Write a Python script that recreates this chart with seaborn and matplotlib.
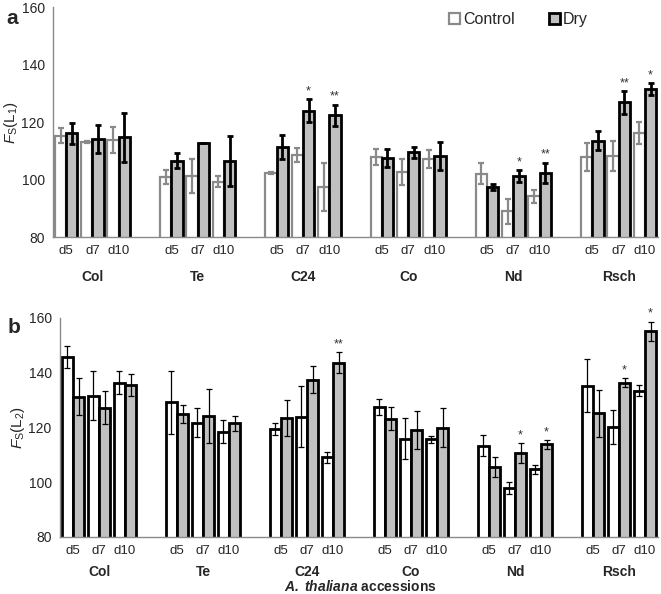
import numpy as np
import pandas as pd
import matplotlib
matplotlib.use('Agg')
import matplotlib.pyplot as plt
import matplotlib.transforms as mtrans
import seaborn as sns

sns.set_style('white')
plt.rcParams['font.family'] = ['Liberation Sans', 'DejaVu Sans']
plt.rcParams['mathtext.fontset'] = 'custom'
plt.rcParams['mathtext.rm'] = 'Liberation Sans'
plt.rcParams['mathtext.it'] = 'Liberation Sans:italic'
plt.rcParams['mathtext.bf'] = 'Liberation Sans:bold'
plt.rcParams['mathtext.bfit'] = 'Liberation Sans:italic:bold'

# ── Data ───────────────────────────────────────────────────────────
accessions = ['Col', 'Te', 'C24', 'Co', 'Nd', 'Rsch']
days = ['d5', 'd7', 'd10']

# panel a : Fs(L1)
a_ctrl     = [115.2, 113.0, 113.8, 100.9, 101.4, 99.3, 102.4, 108.5, 97.3,
              107.8, 102.6, 107.3, 102.0, 88.9, 94.2, 107.8, 108.2, 116.1]
a_ctrl_err = [2.6, 0.3, 4.6, 2.4, 5.9, 1.9, 0.3, 2.5, 8.4,
              2.7, 4.5, 3.1, 3.7, 4.4, 2.2, 4.9, 5.2, 3.8]
a_dry      = [116.1, 114.0, 114.7, 106.5, 112.6, 106.5, 111.5, 124.0, 122.4,
              107.5, 109.5, 108.3, 97.5, 101.3, 102.3, 113.6, 126.9, 131.5]
a_dry_err  = [3.6, 4.9, 8.5, 2.6, 0.0, 8.7, 4.2, 4.1, 3.7,
              3.2, 2.0, 4.8, 1.0, 2.1, 3.6, 3.4, 3.9, 2.1]
a_sig      = ['', '', '', '', '', '', '', '*', '**',
              '', '', '', '', '*', '**', '', '**', '*']

# panel b : Fs(L2)
b_ctrl     = [145.7, 131.6, 136.3, 129.1, 121.7, 118.4, 119.5, 123.9, 109.1,
              127.4, 115.9, 115.6, 113.3, 97.8, 104.7, 135.2, 120.2, 133.4]
b_ctrl_err = [4.0, 9.0, 4.2, 11.4, 5.3, 4.1, 2.2, 11.0, 2.0,
              2.9, 7.4, 1.3, 3.9, 2.3, 1.6, 9.7, 6.2, 2.1]
b_dry      = [131.2, 127.2, 135.3, 124.9, 124.1, 121.5, 123.4, 137.4, 143.6,
              123.2, 119.0, 119.9, 105.5, 110.6, 113.8, 125.1, 136.3, 155.1]
b_dry_err  = [6.7, 5.9, 4.0, 3.2, 9.8, 2.8, 6.6, 4.8, 3.9,
              4.2, 6.9, 7.2, 3.5, 3.7, 1.6, 8.6, 1.6, 3.5]
b_sig      = ['', '', '', '', '', '', '', '', '**',
              '', '', '', '', '*', '*', '', '*', '*']

# slot order: three days per accession, one empty slot between accessions
order = []
for i, acc in enumerate(accessions):
    order += [f'{acc} {d}' for d in days]
    if i < len(accessions) - 1:
        order.append(f'gap{i}')
slot_labels = ['' if s.startswith('gap') else s.split()[1] for s in order]


def make_df(ctrl, dry):
    rows = []
    k = 0
    for acc in accessions:
        for d in days:
            rows.append((f'{acc} {d}', 'Control', ctrl[k]))
            rows.append((f'{acc} {d}', 'Dry', dry[k]))
            k += 1
    return pd.DataFrame(rows, columns=['slot', 'treatment', 'value'])


GRAY_EDGE = '#8a8a8a'
DRY_FILL = '#c0c0c0'
AXIS_COL = '#8a8a8a'

fig = plt.figure(figsize=(6.61, 5.94), dpi=100)
ax_a = fig.add_axes([0.0802, 0.601, 0.9153, 0.3867])
ax_b = fig.add_axes([0.0908, 0.096, 0.9047, 0.3692])


def draw_panel(ax, ctrl, ctrl_err, dry, dry_err, sig, panel):
    df = make_df(ctrl, dry)
    sns.barplot(data=df, x='slot', y='value', hue='treatment', order=order,
                hue_order=['Control', 'Dry'],
                palette={'Control': 'white', 'Dry': DRY_FILL},
                saturation=1, errorbar=None, width=0.86, ax=ax, legend=False)
    c_ctrl, c_dry = ax.containers[0], ax.containers[1]
    if panel == 'a':
        for p in c_ctrl:
            p.set_edgecolor(GRAY_EDGE); p.set_linewidth(1.6)
        for p in c_dry:
            p.set_edgecolor('black'); p.set_linewidth(2.0)
        ctrl_style = dict(ecolor=GRAY_EDGE, elinewidth=1.6, capthick=1.6, capsize=2.5)
        dry_style = dict(ecolor='black', elinewidth=2.0, capthick=2.0, capsize=2.5)
    else:
        for cont in (c_ctrl, c_dry):
            for p in cont:
                p.set_edgecolor('black'); p.set_linewidth(2.0)
        ctrl_style = dict(ecolor='black', elinewidth=0.9, capthick=0.9, capsize=2.5)
        dry_style = dict(ecolor='black', elinewidth=0.9, capthick=0.9, capsize=2.5)

    for cont, err, style in ((c_ctrl, ctrl_err, ctrl_style), (c_dry, dry_err, dry_style)):
        xs = [p.get_x() + p.get_width() / 2 for p in cont]
        hs = [p.get_height() for p in cont]
        ax.errorbar(xs, hs, yerr=err, fmt='none', zorder=3, **style)

    for p, v, e, s in zip(c_dry, dry, dry_err, sig):
        if s:
            ax.text(p.get_x() + p.get_width() / 2, v + e + 0.6, s, ha='center',
                    va='bottom', fontsize=9, color='#333333')

    ax.set_ylim(80, 160)
    ax.set_yticks([80, 100, 120, 140, 160])
    ax.set_xlim(-0.5, len(order) - 0.5)
    ax.set_xticks(np.arange(-0.5, len(order), 1.0))
    ax.set_xticklabels([])
    ax.set_xticks(np.arange(len(order)), minor=True)
    ax.set_xticklabels(slot_labels, minor=True)
    ax.tick_params(axis='x', which='major', direction='out', length=4, color=AXIS_COL, width=1)
    ax.tick_params(axis='x', which='minor', length=0, labelsize=9.5, pad=6)
    ax.tick_params(axis='y', direction='out', length=4, color=AXIS_COL, width=1,
                   labelsize=10, pad=2)
    ax.set_xlabel('')
    for side in ('top', 'right'):
        ax.spines[side].set_visible(False)
    for side in ('left', 'bottom'):
        ax.spines[side].set_color(AXIS_COL)
        ax.spines[side].set_linewidth(1.0)
    return c_ctrl, c_dry


# ── Panel a ────────────────────────────────────────────────────────
c_ctrl, c_dry = draw_panel(ax_a, a_ctrl, a_ctrl_err, a_dry, a_dry_err, a_sig, 'a')
ax_a.set_ylabel(r'$\mathit{F}_{\mathrm{S}}(\mathrm{L}_{1})$', fontsize=11, labelpad=1)
trans = mtrans.blended_transform_factory(ax_a.transData, ax_a.transAxes)
for i, acc in enumerate(accessions):
    ax_a.text(i * 4 + 1, -0.175, acc, transform=trans, ha='center', va='center',
              fontsize=10, fontweight='bold')
ax_a.legend(handles=[c_ctrl, c_dry], labels=['Control', 'Dry'], ncol=2,
            frameon=False, loc='center left', bbox_to_anchor=(0.655, 0.945),
            fontsize=11.5, handlelength=0.7, handleheight=0.7, handletextpad=0.2,
            columnspacing=2.1, borderaxespad=0, borderpad=0)
fig.text(0.010, 0.985, 'a', fontsize=15, fontweight='bold', va='top')

# ── Panel b ────────────────────────────────────────────────────────
draw_panel(ax_b, b_ctrl, b_ctrl_err, b_dry, b_dry_err, b_sig, 'b')
ax_b.set_ylabel(r'$\mathit{F}_{\mathrm{S}}(\mathrm{L}_{2})$', fontsize=11, labelpad=1)
ax_b.tick_params(axis='x', which='minor', pad=6)
trans = mtrans.blended_transform_factory(ax_b.transData, ax_b.transAxes)
for i, acc in enumerate(accessions):
    ax_b.text(i * 4 + 1, -0.158, acc, transform=trans, ha='center', va='center',
              fontsize=10, fontweight='bold')
ax_b.text(0.503, -0.228, r'$\mathbfit{A.\ thaliana}$ accessions',
          transform=ax_b.transAxes, ha='center', va='center', fontsize=10,
          fontweight='bold')
fig.text(0.012, 0.465, 'b', fontsize=15, fontweight='bold', va='top')

plt.savefig('out.png', dpi=100)
plt.close()
